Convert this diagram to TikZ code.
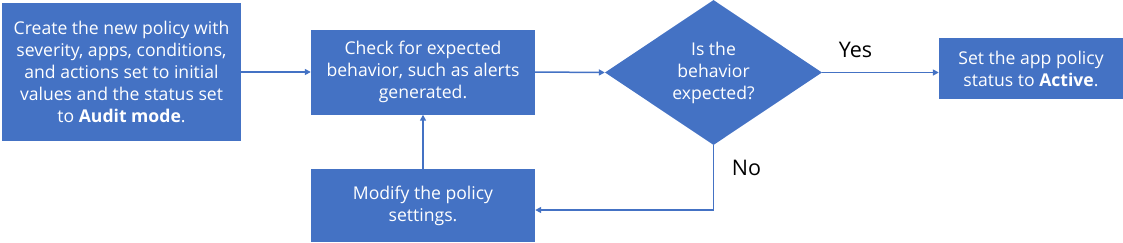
\documentclass[tikz,border=0pt]{standalone}
\usepackage{fontspec}
\setmainfont{Open Sans}
\usetikzlibrary{shapes.geometric,arrows.meta}
\definecolor{flowblue}{HTML}{4472C4}

\begin{document}
\begin{tikzpicture}[x=1pt, y=-1pt,
  every node/.style={font=\fontsize{17.6}{22}\selectfont},
  box/.style={fill=flowblue, text=white, align=center, inner sep=0pt},
  decision/.style={diamond, fill=flowblue, text=white, align=center, inner sep=0pt,
    minimum width=217pt, minimum height=145pt},
  lbl/.style={font=\fontsize{21.5}{24}\selectfont, text=black},
  flow/.style={draw=flowblue, line width=1.5pt, -{Triangle[length=6pt,width=6pt]}}]
 \useasboundingbox (0,0) rectangle (1123,242);
 \node[box, minimum width=239pt, minimum height=138pt] (create) at (121.5,72)
   {Create the new policy with\\ severity, apps, conditions,\\ and actions set to initial\\ values and the status set\\ to \textbf{Audit mode}.};
 \node[box, minimum width=224pt, minimum height=85pt] (check) at (423,72)
   {Check for expected\\ behavior, such as alerts\\ generated.};
 \node[decision] (decide) at (713.5,72.5) {Is the\\ behavior\\ expected?};
 \node[box, minimum width=184pt, minimum height=61pt] (active) at (1031,68.5)
   {Set the app policy\\ status to \textbf{Active}.};
 \node[box, minimum width=224pt, minimum height=73pt] (modify) at (423,205.5)
   {Modify the policy\\ settings.};
 \node[lbl] (yes) at (855.5,50) {Yes};
 \node[lbl] (no) at (746.5,167.5) {No};
 \coordinate (noturn) at (713.5,210);
 \draw[flow] (create.east) -- (create.east -| check.west);
 \draw[flow] (check.east) -- (decide.west);
 \draw[flow] (decide.east) -- (decide.east -| active.west);
 \draw[flow] (decide.south) -- (noturn) -- (noturn -| modify.east);
 \draw[flow] (modify.north) -- (check.south);
\end{tikzpicture}
\end{document}
